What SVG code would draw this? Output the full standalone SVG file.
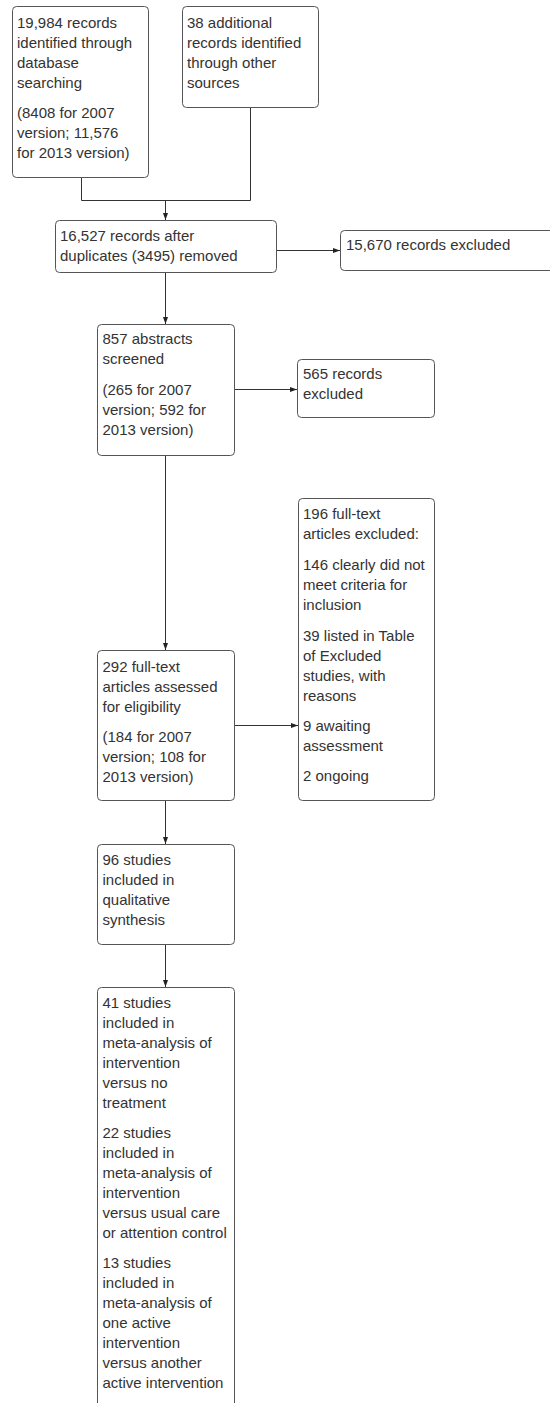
<svg xmlns="http://www.w3.org/2000/svg" width="550" height="1403" viewBox="0 0 550 1403">
<style>
.box{fill:#fff;stroke:#555;stroke-width:1}
.t{font-family:"Liberation Sans",Arial,sans-serif;font-size:15px;fill:#333}
.c{fill:none;stroke:#333;stroke-width:1}
</style>
<defs>
<marker id="ah" markerUnits="userSpaceOnUse" markerWidth="8" markerHeight="6" refX="7" refY="3" orient="auto">
<path d="M0,0.5 L7,3 L0,5.5 Z" fill="#222"/>
</marker>
</defs>
<rect width="550" height="1403" fill="#fff"/>
<g id="connectors">
<path class="c" d="M81.5,177.5 V200.5 H250.5 V107.5"/>
<path class="c" d="M165.5,200.5 V220" marker-end="url(#ah)"/>
<path class="c" d="M276.5,250.5 H340" marker-end="url(#ah)"/>
<path class="c" d="M165.5,272.5 V324" marker-end="url(#ah)"/>
<path class="c" d="M234.5,389.5 H297" marker-end="url(#ah)"/>
<path class="c" d="M165.5,455.5 V650" marker-end="url(#ah)"/>
<path class="c" d="M234.5,725.5 H298" marker-end="url(#ah)"/>
<path class="c" d="M165.5,800.5 V844" marker-end="url(#ah)"/>
<path class="c" d="M165.5,944.5 V987" marker-end="url(#ah)"/>
</g>
<g id="n1">
<rect class="box" x="12.5" y="6.5" width="136" height="171" rx="4"/>
<text class="t" x="17" y="27.7"><tspan x="17">19,984 records</tspan><tspan x="17" dy="20">identified through</tspan><tspan x="17" dy="20">database</tspan><tspan x="17" dy="20">searching</tspan><tspan x="17" dy="30.3">(8408 for 2007</tspan><tspan x="17" dy="20">version; 11,576</tspan><tspan x="17" dy="20">for 2013 version)</tspan></text>
</g>
<g id="n2">
<rect class="box" x="182.5" y="6.5" width="136" height="101" rx="4"/>
<text class="t" x="187" y="27.7"><tspan x="187">38 additional</tspan><tspan x="187" dy="20">records identified</tspan><tspan x="187" dy="20">through other</tspan><tspan x="187" dy="20">sources</tspan></text>
</g>
<g id="n3">
<rect class="box" x="55.5" y="220.5" width="221" height="52" rx="4"/>
<text class="t" x="60" y="240.5"><tspan x="60">16,527 records after</tspan><tspan x="60" dy="20">duplicates (3495) removed</tspan></text>
</g>
<g id="n4">
<rect class="box" x="340.5" y="230.5" width="230" height="40" rx="4"/>
<text class="t" x="346" y="250">15,670 records excluded</text>
</g>
<g id="n5">
<rect class="box" x="97.5" y="324.5" width="137" height="131" rx="4"/>
<text class="t" x="102.5" y="344.3"><tspan x="102.5">857 abstracts</tspan><tspan x="102.5" dy="20">screened</tspan><tspan x="102.5" dy="31">(265 for 2007</tspan><tspan x="102.5" dy="20">version; 592 for</tspan><tspan x="102.5" dy="20">2013 version)</tspan></text>
</g>
<g id="n6">
<rect class="box" x="297.5" y="359.5" width="137" height="58" rx="4"/>
<text class="t" x="303" y="379.3"><tspan x="303">565 records</tspan><tspan x="303" dy="20">excluded</tspan></text>
</g>
<g id="n7">
<rect class="box" x="97.5" y="650.5" width="137" height="150" rx="4"/>
<text class="t" x="102.5" y="671.7"><tspan x="102.5">292 full-text</tspan><tspan x="102.5" dy="20">articles assessed</tspan><tspan x="102.5" dy="20">for eligibility</tspan><tspan x="102.5" dy="30">(184 for 2007</tspan><tspan x="102.5" dy="20">version; 108 for</tspan><tspan x="102.5" dy="20">2013 version)</tspan></text>
</g>
<g id="n8">
<rect class="box" x="298.5" y="498.5" width="136" height="302" rx="4"/>
<text class="t" x="303" y="519"><tspan x="303">196 full-text</tspan><tspan x="303" dy="20">articles excluded:</tspan><tspan x="303" dy="31">146 clearly did not</tspan><tspan x="303" dy="20">meet criteria for</tspan><tspan x="303" dy="20">inclusion</tspan><tspan x="303" dy="31">39 listed in Table</tspan><tspan x="303" dy="20">of Excluded</tspan><tspan x="303" dy="20">studies, with</tspan><tspan x="303" dy="20">reasons</tspan><tspan x="303" dy="30">9 awaiting</tspan><tspan x="303" dy="20">assessment</tspan><tspan x="303" dy="30">2 ongoing</tspan></text>
</g>
<g id="n9">
<rect class="box" x="97.5" y="844.5" width="137" height="100" rx="4"/>
<text class="t" x="102.5" y="865"><tspan x="102.5">96 studies</tspan><tspan x="102.5" dy="20">included in</tspan><tspan x="102.5" dy="20">qualitative</tspan><tspan x="102.5" dy="20">synthesis</tspan></text>
</g>
<g id="n10">
<rect class="box" x="97.5" y="987.5" width="137" height="430" rx="4"/>
<text class="t" x="102.5" y="1007.7"><tspan x="102.5">41 studies</tspan><tspan x="102.5" dy="20">included in</tspan><tspan x="102.5" dy="20">meta-analysis of</tspan><tspan x="102.5" dy="20">intervention</tspan><tspan x="102.5" dy="20">versus no</tspan><tspan x="102.5" dy="20">treatment</tspan><tspan x="102.5" dy="30.6">22 studies</tspan><tspan x="102.5" dy="20">included in</tspan><tspan x="102.5" dy="20">meta-analysis of</tspan><tspan x="102.5" dy="20">intervention</tspan><tspan x="102.5" dy="20">versus usual care</tspan><tspan x="102.5" dy="20">or attention control</tspan><tspan x="102.5" dy="30">13 studies</tspan><tspan x="102.5" dy="20">included in</tspan><tspan x="102.5" dy="20">meta-analysis of</tspan><tspan x="102.5" dy="20">one active</tspan><tspan x="102.5" dy="20">intervention</tspan><tspan x="102.5" dy="20">versus another</tspan><tspan x="102.5" dy="20">active intervention</tspan></text>
</g>
</svg>
